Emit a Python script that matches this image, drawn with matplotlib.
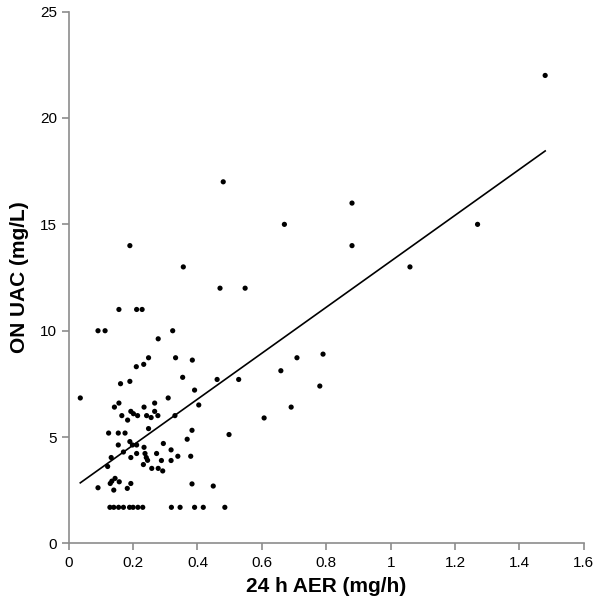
import numpy as np
import matplotlib.pyplot as plt
from matplotlib.ticker import FuncFormatter

# 24 h AER (mg/h) vs overnight UAC (mg/L)
aer = [
    0.036, 0.091, 0.113, 0.156, 0.211, 0.228, 0.190, 0.278, 0.248, 0.233,
    0.210, 0.190, 0.161, 0.309, 0.323, 0.332, 0.384, 0.354, 0.391, 0.461,
    0.528, 0.356, 0.470, 0.548, 0.404, 0.659, 0.709, 0.691, 0.330, 0.383,
    0.368, 0.294, 0.318, 0.318, 0.339, 0.379, 0.288, 0.292, 0.383, 0.449,
    0.498, 0.607, 0.142, 0.156, 0.234, 0.267, 0.165, 0.193, 0.201, 0.214,
    0.183, 0.242, 0.256, 0.277, 0.267, 0.124, 0.154, 0.175, 0.248, 0.154,
    0.190, 0.198, 0.211, 0.234, 0.170, 0.132, 0.193, 0.211, 0.237, 0.241,
    0.245, 0.273, 0.232, 0.121, 0.258, 0.278, 0.134, 0.144, 0.157, 0.129,
    0.140, 0.193, 0.182, 0.091,
    # values at the 1.7 floor
    0.128, 0.140, 0.155, 0.170, 0.189, 0.200, 0.215, 0.230,
    0.319, 0.346, 0.391, 0.418, 0.485,
    # high values
    1.48, 1.27, 1.06, 0.88, 0.88, 0.79, 0.78, 0.67, 0.48,
]
uac = [
    6.84, 10.0, 10.0, 11.0, 11.0, 11.0, 14.0, 9.62, 8.73, 8.42,
    8.31, 7.62, 7.51, 6.84, 10.0, 8.73, 8.62, 7.81, 7.21, 7.71,
    7.71, 13.0, 12.0, 12.0, 6.51, 8.12, 8.73, 6.41, 6.01, 5.32,
    4.90, 4.70, 4.40, 3.90, 4.10, 4.10, 3.90, 3.41, 2.80, 2.70,
    5.12, 5.90, 6.41, 6.60, 6.41, 6.60, 6.01, 6.21, 6.10, 6.01,
    5.80, 6.01, 5.92, 6.01, 6.21, 5.19, 5.19, 5.19, 5.40, 4.63,
    4.79, 4.63, 4.63, 4.52, 4.30, 4.04, 4.04, 4.23, 4.23, 4.04,
    3.91, 4.23, 3.71, 3.62, 3.53, 3.53, 2.93, 3.06, 2.90, 2.82,
    2.51, 2.82, 2.59, 2.62,
    1.7, 1.7, 1.7, 1.7, 1.7, 1.7, 1.7, 1.7,
    1.7, 1.7, 1.7, 1.7, 1.7,
    22.0, 15.0, 13.0, 16.0, 14.0, 8.9, 7.4, 15.0, 17.0,
]

trend_x = [0.036, 1.48]
trend_y = [2.85, 18.45]

x_ticks = [0, 0.2, 0.4, 0.6, 0.8, 1.0, 1.2, 1.4, 1.6]
y_ticks = [0, 5, 10, 15, 20, 25]

plt.rcParams["font.family"] = ["Liberation Sans", "DejaVu Sans"]

fig = plt.figure(figsize=(6.0, 6.11), dpi=100)
ax = fig.add_axes([0.1145, 0.1105, 0.8585, 0.8705])

ax.scatter(aer, uac, s=14, color="black", edgecolors="none", zorder=3)
ax.plot(trend_x, trend_y, color="black", lw=1.2, zorder=2)

ax.set_xlim(0, 1.6)
ax.set_ylim(0, 25)
ax.set_xticks(x_ticks)
ax.set_yticks(y_ticks)
ax.xaxis.set_major_formatter(FuncFormatter(lambda v, p: f"{v:g}"))

for side in ["top", "right"]:
    ax.spines[side].set_visible(False)
for side in ["left", "bottom"]:
    ax.spines[side].set_color("#8c8c8c")
    ax.spines[side].set_linewidth(1.2)
ax.tick_params(direction="out", length=5, width=1.2, color="#8c8c8c",
               labelsize=11, labelcolor="black")
ax.tick_params(axis="x", pad=4)

ax.set_xlabel("24 h AER (mg/h)", fontsize=15, fontweight="bold", labelpad=5)
ax.set_ylabel("ON UAC (mg/L)", fontsize=15, fontweight="bold", labelpad=8)

fig.savefig("out.png", dpi=100)
